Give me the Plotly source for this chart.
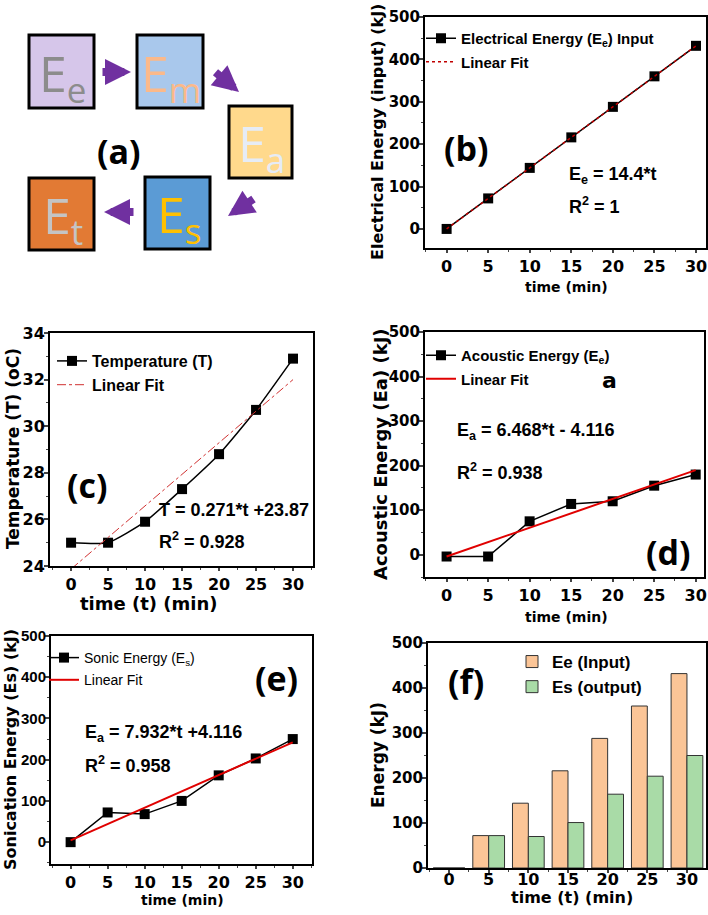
import plotly.graph_objects as go

W, H = 708, 915
def px(x):
    return x / W
def py(y):
    return 1 - y / H

# ---------------- data ----------------
time_min = [0, 5, 10, 15, 20, 25, 30]
fit_t = [0, 30]
elec_energy = [0, 72, 144, 216, 288, 360, 432]
elec_fit = [0, 432]
temperature = [25.0, 25.0, 25.9, 27.3, 28.8, 30.7, 32.9]
temp_fit = [23.87, 32.0]
acoustic_energy = [-4, -4, 75, 114, 120, 155, 180]
acoustic_fit = [-4.1, 190]
sonic_energy = [0, 72, 68, 100, 162, 203, 250]
sonic_fit = [4.1, 242]
bar_input = [0, 72, 144, 216, 288, 360, 432]
bar_output = [0, 72, 70, 101, 164, 204, 250]
time_ticks = [0, 5, 10, 15, 20, 25, 30]
energy_ticks = [0, 100, 200, 300, 400, 500]
temp_ticks = [24, 26, 28, 30, 32, 34]

FONT = "DejaVu Sans"
ARIAL = "Liberation Sans"
fig = go.Figure()

mk = dict(symbol="square", size=10, color="black")
ln = dict(color="black", width=1.5)

# (b)
fig.add_trace(go.Scatter(x=time_min, y=elec_energy, mode="lines+markers", marker=mk, line=ln,
                         name="Electrical Energy (E<sub>e</sub>) Input", xaxis="x", yaxis="y",
                         legend="legend", legendgroup="b1"))
fig.add_trace(go.Scatter(x=fit_t, y=elec_fit, mode="lines", line=dict(color="#c00000", width=1.5, dash="dot"),
                         name="Linear Fit", xaxis="x", yaxis="y", legend="legend", legendgroup="b2"))
# (c)
fig.add_trace(go.Scatter(x=time_min, y=temperature, mode="lines+markers", marker=mk,
                         line=dict(color="black", width=1.5, shape="spline", smoothing=0.5),
                         name="Temperature (T)", xaxis="x2", yaxis="y2", legend="legend2", legendgroup="c1"))
fig.add_trace(go.Scatter(x=fit_t, y=temp_fit, mode="lines", line=dict(color="#d03030", width=1, dash="dashdot"),
                         name="Linear Fit", xaxis="x2", yaxis="y2", legend="legend2", legendgroup="c2"))
# (d)
fig.add_trace(go.Scatter(x=time_min, y=acoustic_energy, mode="lines+markers", marker=mk, line=ln,
                         name="Acoustic Energy (E<sub>e</sub>)", xaxis="x3", yaxis="y3",
                         legend="legend3", legendgroup="d1"))
fig.add_trace(go.Scatter(x=fit_t, y=acoustic_fit, mode="lines", line=dict(color="#e00000", width=2),
                         name="Linear Fit", xaxis="x3", yaxis="y3", legend="legend3", legendgroup="d2"))
# (e)
fig.add_trace(go.Scatter(x=time_min, y=sonic_energy, mode="lines+markers", marker=mk, line=ln,
                         name="Sonic Energy (E<sub>s</sub>)", xaxis="x4", yaxis="y4",
                         legend="legend4", legendgroup="e1"))
fig.add_trace(go.Scatter(x=fit_t, y=sonic_fit, mode="lines", line=dict(color="#e00000", width=2),
                         name="Linear Fit", xaxis="x4", yaxis="y4", legend="legend4", legendgroup="e2"))
# (f)
fig.add_trace(go.Bar(x=time_min, y=bar_input, name="Ee (Input)",
                     marker=dict(color="#fbc597", line=dict(color="#333", width=1)),
                     xaxis="x5", yaxis="y5", legend="legend5", legendgroup="f1"))
fig.add_trace(go.Bar(x=time_min, y=bar_output, name="Es (output)",
                     marker=dict(color="#a9dba7", line=dict(color="#333", width=1)),
                     xaxis="x5", yaxis="y5", legend="legend5", legendgroup="f2"))

def xax(dom, rng, anchor, standoff=0):
    return dict(domain=dom, range=rng, anchor=anchor, tickvals=time_ticks, automargin=False,
                ticks="outside", ticklen=3, tickwidth=1.5, showline=True, linewidth=2, linecolor="black",
                mirror=True, showgrid=False, zeroline=False, ticklabelstandoff=standoff,
                minor=dict(ticks="outside", ticklen=2, tickwidth=1, dtick=2.5, tick0=0),
                tickfont=dict(family=FONT, size=16, color="black", weight="bold"))

def yax(dom, rng, ticks, anchor, minor_dt, tfont):
    return dict(domain=dom, range=rng, anchor=anchor, tickvals=ticks, automargin=False,
                ticks="outside", ticklen=4, tickwidth=1.5, showline=True, linewidth=2, linecolor="black",
                mirror=True, showgrid=False, zeroline=False, ticklabelstandoff=-4,
                minor=dict(ticks="outside", ticklen=2, tickwidth=1, dtick=minor_dt, tick0=0),
                tickfont=tfont)

def dom(x0, y0, x1, y1):
    return [px(x0), px(x1)], [py(y1), py(y0)]

bx, by = dom(425, 17, 706, 248)
cx, cy = dom(50, 333, 313, 566)
dx, dy = dom(425, 332, 704, 577)
ex, ey = dom(51, 636, 312, 864)
fx, fy = dom(428, 643, 706, 868)

tick15 = dict(family=FONT, size=15, color="black", weight="bold")
tick16 = dict(family=FONT, size=16, color="black", weight="bold")
tick_e = dict(family=ARIAL, size=15, color="black", weight="bold")

def leg(x, y, font, gap):
    return dict(x=px(x), y=py(y), xanchor="left", yanchor="top", bgcolor="rgba(0,0,0,0)",
                font=font, tracegroupgap=gap, itemwidth=30)

fig.update_layout(
    width=W, height=H, margin=dict(l=0, r=0, t=0, b=0, autoexpand=False),
    paper_bgcolor="white", plot_bgcolor="white",
    bargap=0.2, bargroupgap=0, barmode="group",
    xaxis=xax(bx, [-2.6, 31.2], "y"),
    yaxis=yax(by, [-45, 500], energy_ticks, "x", 50, tick15),
    xaxis2=xax(cx, [-2.85, 32.7], "y2"),
    yaxis2=yax(cy, [24, 34], temp_ticks, "x2", 1, tick16),
    xaxis3=xax(dx, [-2.6, 31.0], "y3"),
    yaxis3=yax(dy, [-50, 500], energy_ticks, "x3", 50, tick15),
    xaxis4=xax(ex, [-2.65, 32.6], "y4"),
    yaxis4=yax(ey, [-53, 500], energy_ticks, "x4", 50, tick_e),
    xaxis5=xax(fx, [-2.65, 32.4], "y5", standoff=-7),
    yaxis5=yax(fy, [0, 500], energy_ticks, "x5", 50, tick15),
    legend=leg(421, 22, dict(family=ARIAL, size=15, color="black", weight="bold"), 1),
    legend2=leg(52, 344, dict(family=ARIAL, size=16, color="black", weight="bold"), 0),
    legend3=leg(421, 339, dict(family=ARIAL, size=15, color="black", weight="bold"), 1),
    legend4=leg(44, 642, dict(family=ARIAL, size=14, color="black"), 1),
    legend5=leg(512, 644, dict(family=ARIAL, size=17, color="black", weight="bold"), 0),
)

ann = []
def label(text, x, y, size=34, family="Open Sans", xanchor="center", weight="bold", color="black", angle=0):
    ann.append(dict(text=text, x=px(x), y=py(y), xref="paper", yref="paper", showarrow=False,
                    xanchor=xanchor, yanchor="middle", textangle=angle,
                    font=dict(family=family, size=size, color=color, weight=weight)))

# panel letters
label("(a)", 119, 151)
label("(b)", 467, 148)
label("(c)", 87, 485)
label("(d)", 668, 552)
label("(e)", 276, 678)
label("(f)", 466, 681)
label("a", 609, 381, size=22, family=FONT)

# axis titles
label("time (min)", 566, 287, size=14, family=FONT)
label("Electrical Energy (input) (kJ)", 378, 132, size=16, family=FONT, angle=-90)
label("time (t) (min)", 149, 603, size=18, family=FONT)
label("Temperature (T) (oC)", 13, 449, size=17, family=FONT, angle=-90)
label("time (min)", 566, 617, size=14, family=FONT)
label("Acoustic Energy (Ea) (kJ)", 380, 454, size=18, family=FONT, angle=-90)
label("time (min)", 182, 900, size=14, family=FONT)
label("Sonication Energy (Es) (kJ)", 10, 750, size=16, family=FONT, angle=-90)
label("time (t) (min)", 572, 897, size=16, family=FONT)
label("Energy (kJ)", 378, 755, size=17, family=FONT, angle=-90)

# fit equations
label("E<sub>e</sub> = 14.4*t", 567, 175, size=18, family=ARIAL, xanchor="left")
label("R<sup>2</sup> = 1", 567, 205, size=18, family=ARIAL, xanchor="left")
label("T = 0.271*t +23.87", 157, 510, size=18, family=ARIAL, xanchor="left")
label("R<sup>2</sup> = 0.928", 157, 540, size=18, family=ARIAL, xanchor="left")
label("E<sub>a</sub> = 6.468*t - 4.116", 455, 431, size=18, family=ARIAL, xanchor="left")
label("R<sup>2</sup> = 0.938", 455, 472, size=18, family=ARIAL, xanchor="left")
label("E<sub>a</sub> = 7.932*t +4.116", 83, 733, size=18, family=ARIAL, xanchor="left")
label("R<sup>2</sup> = 0.958", 83, 764, size=18, family=ARIAL, xanchor="left")

# ---------------- panel (a) diagram ----------------
shapes = []
boxes = [
    ((29, 35, 94, 108), "#d6c6ea", "E<sub>e</sub>", "#8c8c8c"),
    ((137, 35, 203, 108), "#a9c8ec", "E<sub>m</sub>", "#fbb98a"),
    ((229, 106, 292, 178), "#ffd98c", "E<sub>a</sub>", "#e6ecf6"),
    ((145, 177, 210, 249), "#5b9bd5", "E<sub>s</sub>", "#ffc000"),
    ((29, 178, 94, 250), "#e27a34", "E<sub>t</sub>", "#c4c4c4"),
]
for (x0, y0, x1, y1), fill, txt, tcol in boxes:
    shapes.append(dict(type="rect", xref="paper", yref="paper", x0=px(x0), x1=px(x1), y0=py(y1), y1=py(y0),
                       fillcolor=fill, line=dict(color="black", width=3)))
    label(txt, (x0 + x1) / 2 + 1, (y0 + y1) / 2 + 4, size=50, family="Open Sans", weight="normal", color=tcol)

arrows = [((131, 72), (-30, 0)), ((239, 92), (-25, -21)), ((228, 216), (27, -18)), ((104, 212), (31, 0))]
for (hx, hy), (axp, ayp) in arrows:
    ann.append(dict(x=px(hx), y=py(hy), xref="paper", yref="paper", ax=axp, ay=ayp, text="",
                    showarrow=True, arrowhead=2, arrowsize=0.65, arrowwidth=8, arrowcolor="#7030a0"))

fig.update_layout(annotations=ann, shapes=shapes)
fig.write_html("out.html", config={"displayModeBar": False},
               post_script="document.body.style.margin='0px';document.body.style.overflow='hidden';")
